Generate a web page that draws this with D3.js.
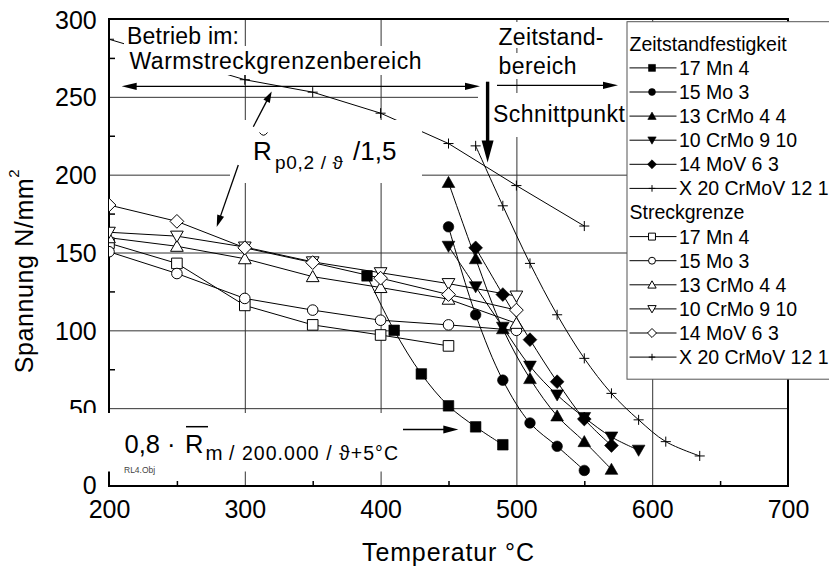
<!DOCTYPE html>
<html>
<head>
<meta charset="utf-8">
<script src="https://cdn.jsdelivr.net/npm/d3@7"></script>
<style>
  html, body { margin: 0; padding: 0; background: #fff; }
  svg { display: block; }
</style>
</head>
<body>
<svg id="chart" width="829" height="566"></svg>
<script>
// ---- axis ticks ----
const xTicks = [200, 300, 400, 500, 600, 700];
const xMinor = [250, 350, 450, 550, 650];
const xGrid = [300, 400, 500, 600];
const yTicks = [0, 50, 100, 150, 200, 250, 300];
const yMinor = [25, 75, 125, 175, 225, 275];
const yGrid = [50, 100, 150, 200, 250];

// ---- Streckgrenze (yield strength / 1.5), open symbols ----
const ysTemps = [200, 250, 300, 350, 400, 450, 500];
const ys17Mn4 = [156, 143, 116, 103.5, 97, 90];
const ys15Mo3 = [150.5, 136.5, 120.5, 113, 106.5, 103.5, 100];
const ys13CrMo44 = [159.5, 154, 146, 134.5, 127.5, 120, 104.5];
const ys10CrMo910 = [163, 160.5, 153.5, 144, 137, 130, 122];
const ys14MoV63 = [180.5, 170, 153, 143.5, 133.5, 123, 113];
const ysX20Temps = [200, 300, 350, 400, 450, 500, 550];
const ysX20 = [287, 261, 253, 239.5, 220, 193, 167];

// ---- Zeitstandfestigkeit (creep rupture strength), filled symbols ----
const zs17Mn4Temps = [390, 410, 430, 450, 470, 490];
const zs17Mn4 = [135, 100, 72, 51.5, 38, 26.5];
const zs15Mo3Temps = [450, 470, 490, 510, 530, 550];
const zs15Mo3 = [166.5, 110, 68, 40.5, 25.5, 10];
const zs13CrMo44Temps = [450, 470, 490, 510, 530, 550, 570];
const zs13CrMo44 = [195, 146, 101, 69, 45, 28.5, 10.7];
const zs10CrMo910Temps = [450, 470, 490, 510, 530, 550, 570, 590];
const zs10CrMo910 = [154, 128, 102, 77, 58.5, 44, 31.5, 23];
const zs14MoV63Temps = [470, 490, 510, 530, 550, 570];
const zs14MoV63 = [153, 123, 94, 67, 43, 26];
const zsX20Temps = [470, 490, 510, 530, 550, 570, 590, 610, 635];
const zsX20 = [218.5, 180, 143, 110, 82, 59.5, 42.5, 28.5, 19.3];

// ---- labels ----
const steelNames = ["17 Mn 4", "15 Mo 3", "13 CrMo 4 4", "10 CrMo 9 10", "14 MoV 6 3", "X 20 CrMoV 12 1"];
const groupTitles = ["Zeitstandfestigkeit", "Streckgrenze"];
const xTitle = "Temperatur °C";
const yTitle = "Spannung N/mm";

const FONT = '"Liberation Sans", Arial, Helvetica, sans-serif';
const svg = d3.select("#chart").attr("font-family", FONT);

const X = d3.scaleLinear().domain([200, 700]).range([109, 788]);
const Y = d3.scaleLinear().domain([0, 300]).range([486, 19]);

// marker shapes (size = radius squared)
const shapes = {
  square: { draw(c, s) { const r = Math.sqrt(s); c.rect(-r, -r, 2 * r, 2 * r); } },
  circle: { draw(c, s) { const r = Math.sqrt(s); c.moveTo(r, 0); c.arc(0, 0, r, 0, 2 * Math.PI); } },
  triUp: { draw(c, s) { const r = Math.sqrt(s); c.moveTo(0, -1.15 * r); c.lineTo(1.2 * r, 0.95 * r); c.lineTo(-1.2 * r, 0.95 * r); c.closePath(); } },
  triDown: { draw(c, s) { const r = Math.sqrt(s); c.moveTo(0, 1.15 * r); c.lineTo(1.2 * r, -0.95 * r); c.lineTo(-1.2 * r, -0.95 * r); c.closePath(); } },
  diamond: { draw(c, s) { const r = Math.sqrt(s) * 1.3; c.moveTo(0, -r); c.lineTo(r, 0); c.lineTo(0, r); c.lineTo(-r, 0); c.closePath(); } },
  plus: { draw(c, s) { const r = Math.sqrt(s) * 0.95; c.moveTo(-r, 0); c.lineTo(r, 0); c.moveTo(0, -r); c.lineTo(0, r); } }
};
const shapeOrder = ["square", "circle", "triUp", "triDown", "diamond", "plus"];

const zip = (t, v) => v.map((d, i) => [t[i], d]);
const creep = [
  zip(zs17Mn4Temps, zs17Mn4), zip(zs15Mo3Temps, zs15Mo3), zip(zs13CrMo44Temps, zs13CrMo44),
  zip(zs10CrMo910Temps, zs10CrMo910), zip(zs14MoV63Temps, zs14MoV63), zip(zsX20Temps, zsX20)
].map((pts, i) => ({ name: steelNames[i], pts, shape: shapeOrder[i], filled: true, smooth: true }));
const yieldS = [
  zip(ysTemps, ys17Mn4), zip(ysTemps, ys15Mo3), zip(ysTemps, ys13CrMo44),
  zip(ysTemps, ys10CrMo910), zip(ysTemps, ys14MoV63), zip(ysX20Temps, ysX20)
].map((pts, i) => ({ name: steelNames[i], pts, shape: shapeOrder[i], filled: false, smooth: false }));

// ---- clip to plot frame ----
svg.append("defs").append("clipPath").attr("id", "plotClip").append("rect")
  .attr("x", X(200)).attr("y", Y(300)).attr("width", X(700) - X(200)).attr("height", Y(0) - Y(300));

// ---- grid ----
const gx = svg.append("g").attr("transform", `translate(0,${Y(0)})`)
  .call(d3.axisBottom(X).tickValues(xGrid).tickSize(-(Y(0) - Y(300))).tickFormat(""));
gx.select(".domain").remove();
gx.selectAll("line").attr("stroke", "#333").attr("stroke-width", 1);
const gy = svg.append("g").attr("transform", `translate(${X(200)},0)`)
  .call(d3.axisLeft(Y).tickValues(yGrid).tickSize(-(X(700) - X(200))).tickFormat(""));
gy.select(".domain").remove();
gy.selectAll("line").attr("stroke", "#333").attr("stroke-width", 1);

// ---- tick labels ----
const xa = svg.append("g").attr("transform", `translate(0,${Y(0)})`)
  .call(d3.axisBottom(X).tickValues(xTicks).tickSize(0).tickPadding(14.5));
xa.select(".domain").remove();
xa.selectAll("text").attr("font-size", 25).attr("font-family", FONT).attr("fill", "#000");
const ya = svg.append("g").attr("transform", `translate(${X(200)},0)`)
  .call(d3.axisLeft(Y).tickValues(yTicks).tickSize(0).tickPadding(12.3));
ya.select(".domain").remove();
ya.selectAll("text").attr("font-size", 25).attr("font-family", FONT).attr("fill", "#000")
  .attr("dy", d => d === 0 ? "0.3em" : "0.36em");

// ---- minor ticks ----
const mx = svg.append("g").attr("transform", `translate(0,${Y(0)})`)
  .call(d3.axisBottom(X).tickValues(xMinor).tickSize(-5).tickFormat(""));
mx.select(".domain").remove();
mx.selectAll("line").attr("stroke", "#000").attr("stroke-width", 1.5);
const my = svg.append("g").attr("transform", `translate(${X(200)},0)`)
  .call(d3.axisLeft(Y).tickValues(yMinor).tickSize(-6).tickFormat(""));
my.select(".domain").remove();
my.selectAll("line").attr("stroke", "#000").attr("stroke-width", 1.5);

// ---- frame ----
svg.append("rect").attr("x", X(200)).attr("y", Y(300))
  .attr("width", X(700) - X(200)).attr("height", Y(0) - Y(300))
  .attr("fill", "none").attr("stroke", "#000").attr("stroke-width", 2);

// ---- curves and markers ----
const plot = svg.append("g").attr("clip-path", "url(#plotClip)");
const linePlain = d3.line().x(d => X(d[0])).y(d => Y(d[1]));
const lineSmooth = d3.line().x(d => X(d[0])).y(d => Y(d[1])).curve(d3.curveCatmullRom.alpha(0.5));

[...yieldS, ...creep].forEach(s => {
  plot.append("path").attr("d", (s.smooth ? lineSmooth : linePlain)(s.pts))
    .attr("fill", "none").attr("stroke", "#000").attr("stroke-width", 1);
});
function drawMarker(g, s, cx, cy, size) {
  const isPlus = s.shape === "plus";
  g.append("path")
    .attr("transform", `translate(${cx},${cy})`)
    .attr("d", d3.symbol().type(shapes[s.shape]).size(size)())
    .attr("fill", isPlus ? "none" : (s.filled ? "#000" : "#fff"))
    .attr("stroke", "#000").attr("stroke-width", s.filled && !isPlus ? 0.6 : 1);
}
[...yieldS, ...creep].forEach(s => {
  s.pts.forEach(p => drawMarker(plot, s, X(p[0]), Y(p[1]), 28));
});

// ---- white label backgrounds ----
const boxes = [
  [124, 22, 119, 24.5], [124, 46, 299, 29], [230, 120, 192, 63],
  [497, 22, 130, 26], [497, 53, 130, 26], [478, 93, 149, 44], [60, 413, 342, 58.5]
];
boxes.forEach(b => svg.append("rect").attr("x", b[0]).attr("y", b[1]).attr("width", b[2]).attr("height", b[3]).attr("fill", "#fff"));

// ---- axis titles ----
svg.append("text").attr("x", 448).attr("y", 560.5).attr("text-anchor", "middle")
  .attr("font-size", 25).attr("textLength", 172).text(xTitle);
const yt = svg.append("text").attr("transform", "translate(33.3,373.3) rotate(-90)").attr("font-size", 25);
yt.append("tspan").attr("textLength", 195).text(yTitle);
yt.append("tspan").attr("font-size", 15).attr("dy", -14).text("2");

// ---- legend ----
const lg = svg.append("g");
lg.append("rect").attr("x", 627).attr("y", 21.7).attr("width", 230).attr("height", 357.5)
  .attr("fill", "#fff").attr("stroke", "#555").attr("stroke-width", 1);
const rowH = 24.1, base0 = 50.7;
[creep, yieldS].forEach((grp, gi) => {
  const hb = base0 + gi * 7 * rowH;
  lg.append("text").attr("x", 629.5).attr("y", hb).attr("font-size", 19.5).text(groupTitles[gi]);
  grp.forEach((s, i) => {
    const b = hb + (i + 1) * rowH, cy = b - 6.9;
    lg.append("line").attr("x1", 629.5).attr("x2", 676.5).attr("y1", cy).attr("y2", cy)
      .attr("stroke", "#000").attr("stroke-width", 1);
    drawMarker(lg, s, 652, cy, 12);
    lg.append("text").attr("x", 679).attr("y", b).attr("font-size", 19.5).text(s.name);
  });
});

// ---- annotations ----
const ann = svg.append("g");
function arrowHead(tx, ty, fx, fy, len, hw) {
  const a = Math.atan2(ty - fy, tx - fx), c = Math.cos(a), s = Math.sin(a);
  const bx = tx - len * c, by = ty - len * s;
  return `M${tx},${ty}L${bx - hw * s},${by + hw * c}L${bx + hw * s},${by - hw * c}Z`;
}
function arrow(fx, fy, tx, ty, w, len, hw) {
  const a = Math.atan2(ty - fy, tx - fx);
  ann.append("line").attr("x1", fx).attr("y1", fy)
    .attr("x2", tx - (len - 1) * Math.cos(a)).attr("y2", ty - (len - 1) * Math.sin(a))
    .attr("stroke", "#000").attr("stroke-width", w);
  ann.append("path").attr("d", arrowHead(tx, ty, fx, fy, len, hw)).attr("fill", "#000");
}

ann.append("text").attr("x", 127).attr("y", 43.5).attr("font-size", 23).attr("textLength", 112).text("Betrieb im:");
ann.append("text").attr("x", 129.5).attr("y", 68.5).attr("font-size", 23).attr("textLength", 292).text("Warmstreckgrenzenbereich");
ann.append("text").attr("x", 498.5).attr("y", 45).attr("font-size", 23).attr("textLength", 105).text("Zeitstand-");
ann.append("text").attr("x", 498.5).attr("y", 73.5).attr("font-size", 23).attr("textLength", 78).text("bereich");
ann.append("text").attr("x", 493).attr("y", 121.5).attr("font-size", 23).attr("textLength", 132).text("Schnittpunkt");

// double arrow across the yield-strength range
arrow(300, 86.3, 121.7, 86.3, 1.3, 15, 3.6);
arrow(300, 86.3, 480, 86.3, 1.3, 15, 3.6);
// arrow into creep range
arrow(497, 85.3, 618, 85.3, 1.3, 15, 3.6);
// thick arrow down to the intersection point
arrow(487.6, 81.7, 487.6, 162.5, 3.4, 22, 6);

// R p0,2/theta / 1,5 label
const rl = ann.append("text").attr("y", 160);
rl.append("tspan").attr("x", 253).attr("font-size", 26).text("R");
rl.append("tspan").attr("x", 275).attr("y", 168.5).attr("font-size", 19).attr("textLength", 68).text("p0,2 / ϑ");
rl.append("tspan").attr("x", 353).attr("y", 160).attr("font-size", 26).text("/1,5");
ann.append("path").attr("d", "M259.5,132.5 Q263.5,138 267.5,132.5").attr("fill", "none").attr("stroke", "#000").attr("stroke-width", 1);
arrow(253.3, 126.7, 271.7, 91.5, 1.3, 11, 3.6);
arrow(238.3, 165, 216.7, 227, 1.3, 12, 3.6);

// 0,8 * Rm / 200.000 / theta+5°C label
const rm = ann.append("text").attr("y", 453.3);
rm.append("tspan").attr("x", 124.5).attr("font-size", 25.5).text("0,8 ·");
rm.append("tspan").attr("x", 185).attr("font-size", 25.5).text("R");
rm.append("tspan").attr("x", 205.5).attr("y", 459.5).attr("font-size", 20.5).text("m");
rm.append("tspan").attr("x", 229).attr("y", 459.5).attr("font-size", 19.5).attr("textLength", 169).text("/ 200.000 / ϑ+5°C");
ann.append("line").attr("x1", 186).attr("x2", 208).attr("y1", 426.7).attr("y2", 426.7).attr("stroke", "#000").attr("stroke-width", 1.5);
arrow(403, 429.5, 458.3, 429.5, 1.3, 15, 4);
ann.append("text").attr("x", 124).attr("y", 472.5).attr("font-size", 8.5).attr("fill", "#444").text("RL4.Obj");
</script>
</body>
</html>
